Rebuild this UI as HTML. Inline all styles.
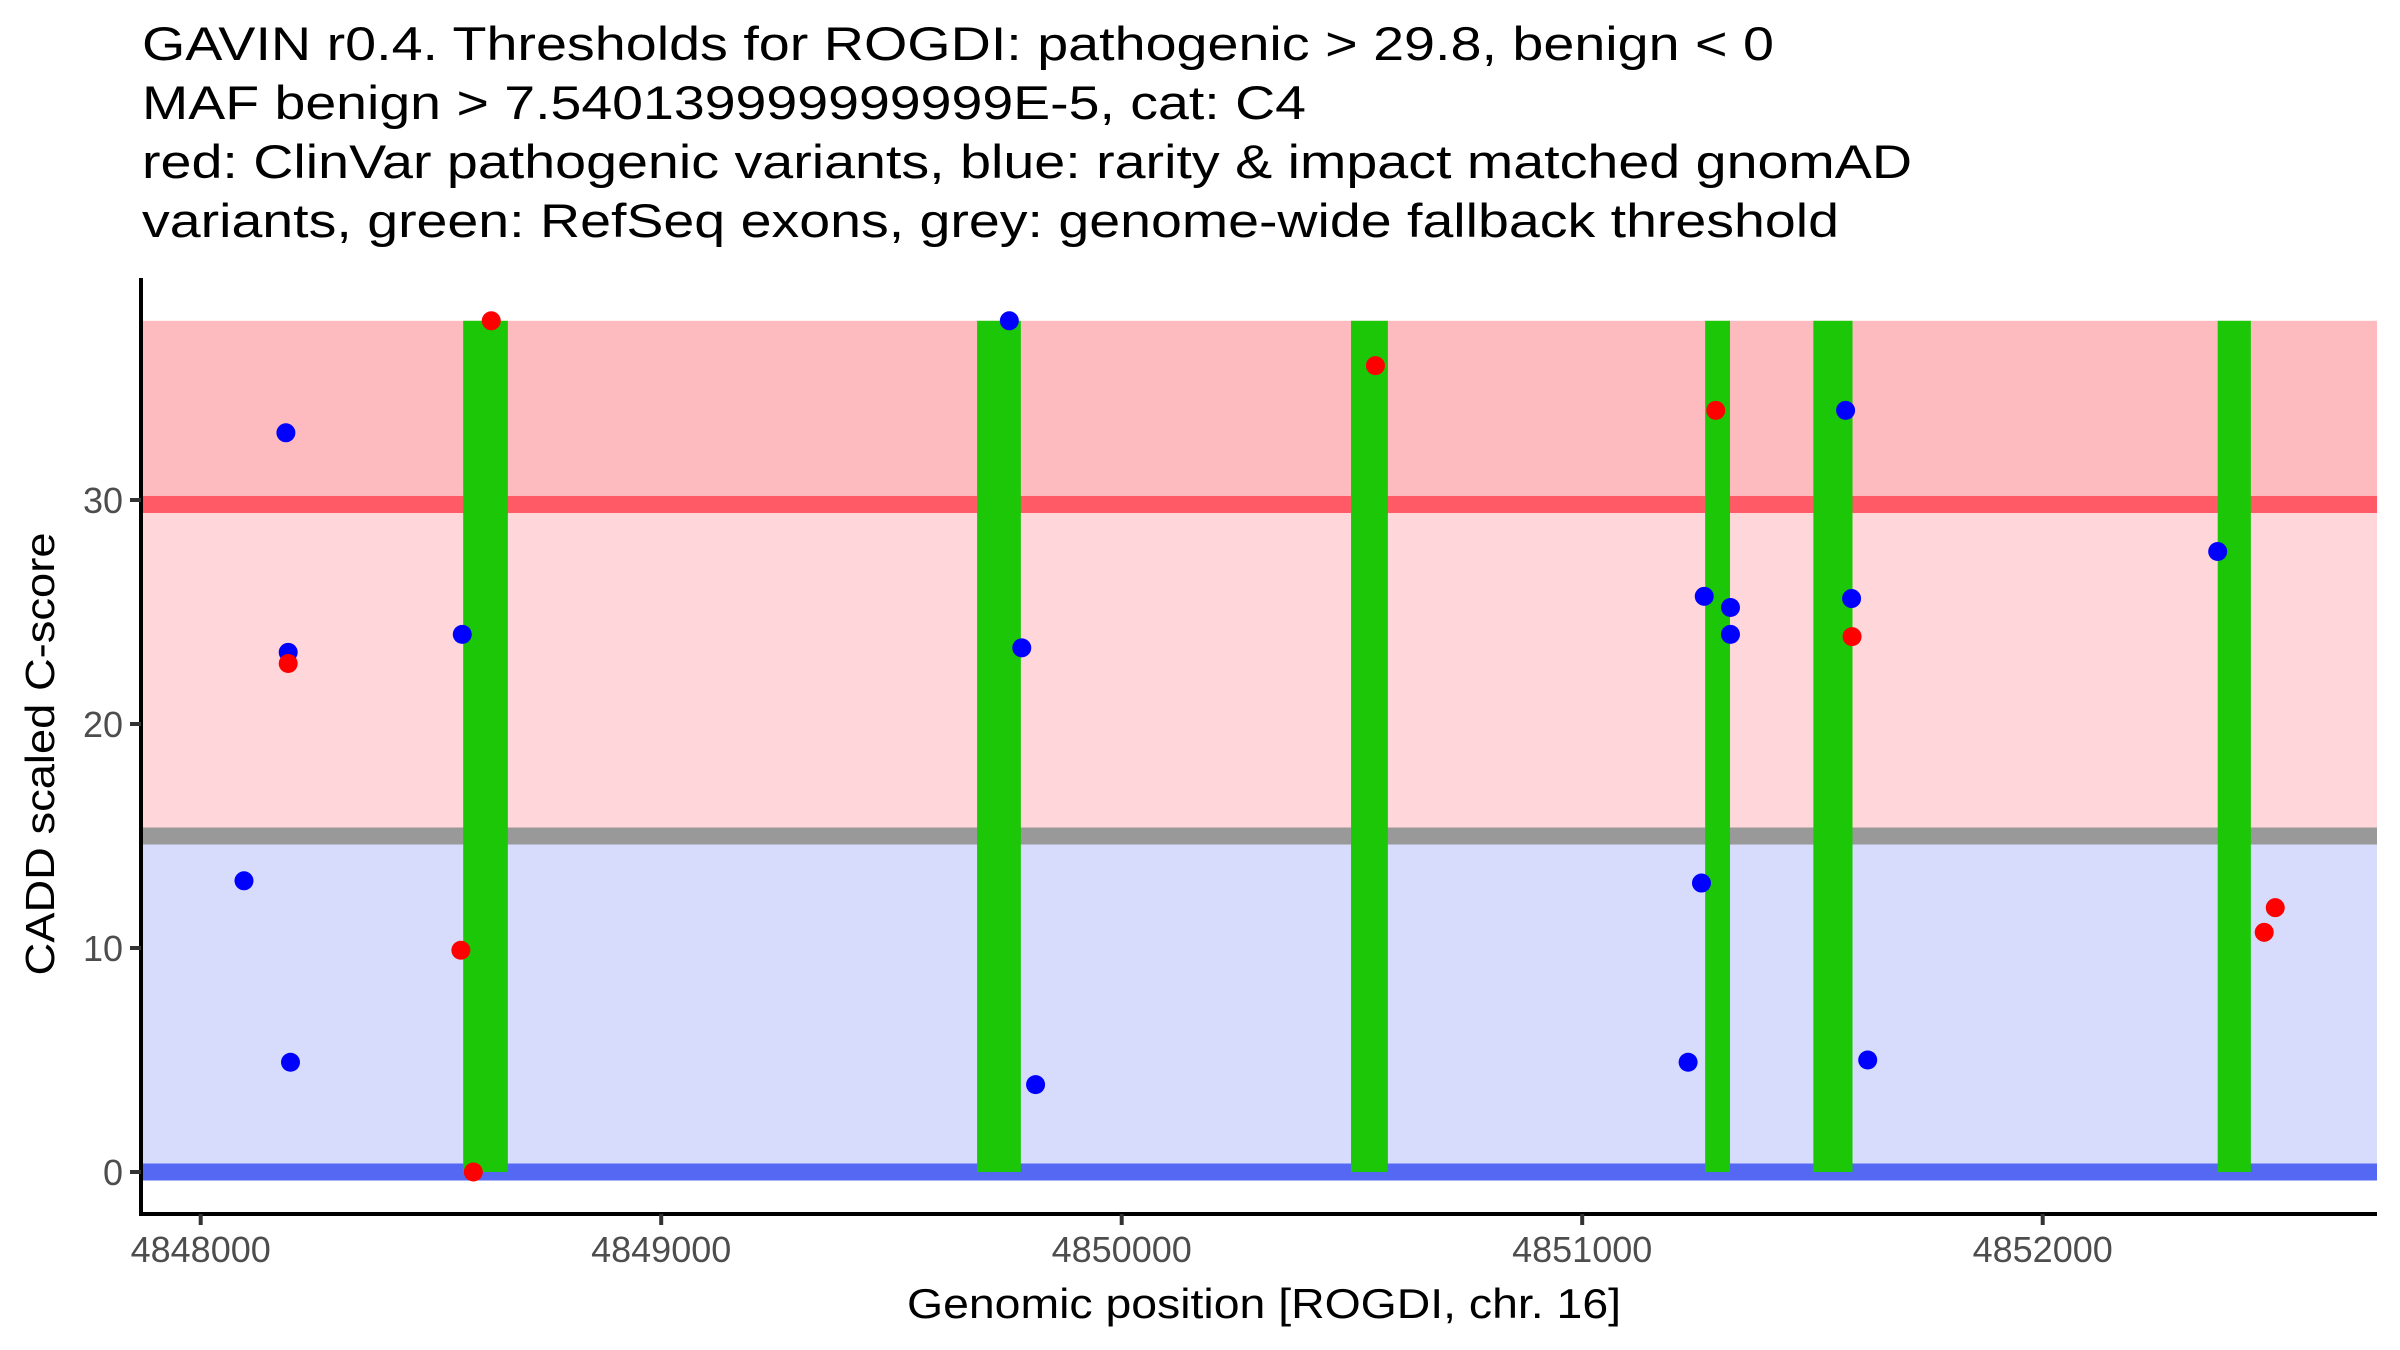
<!DOCTYPE html>
<html><head><meta charset="utf-8"><style>
html,body{margin:0;padding:0;background:#fff;}
svg{display:block;font-family:"Liberation Sans",Arial,sans-serif;}
</style></head><body>
<svg id="chart" width="2400" height="1350" viewBox="0 0 2400 1350" xmlns="http://www.w3.org/2000/svg">
<g font-size="47" fill="#000">
<text x="142" y="60" textLength="1632" lengthAdjust="spacingAndGlyphs">GAVIN r0.4. Thresholds for ROGDI: pathogenic &gt; 29.8, benign &lt; 0</text>
<text x="142" y="119" textLength="1164" lengthAdjust="spacingAndGlyphs">MAF benign &gt; 7.540139999999999E-5, cat: C4</text>
<text x="142" y="178" textLength="1770" lengthAdjust="spacingAndGlyphs">red: ClinVar pathogenic variants, blue: rarity &amp; impact matched gnomAD</text>
<text x="142" y="237" textLength="1697" lengthAdjust="spacingAndGlyphs">variants, green: RefSeq exons, grey: genome-wide fallback threshold</text>
</g>
<g id="bands"></g>
<g id="exons"></g>
<g id="points"></g>
<g id="axes"></g>
<text x="1264" y="1318" font-size="42" text-anchor="middle" textLength="714" lengthAdjust="spacingAndGlyphs">Genomic position [ROGDI, chr. 16]</text>
<text transform="translate(54,754) rotate(-90)" font-size="41" text-anchor="middle" textLength="443" lengthAdjust="spacingAndGlyphs">CADD scaled C-score</text>
</svg>
<script>
const exonStarts = [4848570, 4849686, 4850498, 4851267, 4851502, 4852380];
const exonEnds   = [4848667, 4849781, 4850578, 4851321, 4851587, 4852452];
const bluePos   = [4848185, 4848190, 4848568, 4848094, 4848195, 4849756, 4849783, 4849813, 4851265, 4851322, 4851322, 4851259, 4851230, 4851572, 4851585, 4851620, 4852380];
const blueScore = [33, 23.2, 24, 13, 4.9, 38, 23.4, 3.9, 25.7, 25.2, 24.0, 12.9, 4.9, 34, 25.6, 5.0, 27.7];
const redPos   = [4848631, 4848190, 4848565, 4848592, 4850551, 4851290, 4851586, 4852481, 4852505];
const redScore = [38, 22.7, 9.9, 0, 36, 34, 23.9, 10.7, 11.8];
const xTicks = [4848000, 4849000, 4850000, 4851000, 4852000];
const yTicks = [0, 10, 20, 30];
const pathoThr = 29.8, benignThr = 0, fallbackThr = 15, maxScore = 38;

const NS = 'http://www.w3.org/2000/svg';
const X = v => 200.7 + (v - 4848000) * 0.4605;
const Y = v => 1172 - v * 22.4;
const L = 141, R = 2377, T = 278, B = 1214;
function mk(tag, attrs, parent){const e=document.createElementNS(NS,tag);for(const k in attrs)e.setAttribute(k,attrs[k]);parent.appendChild(e);return e;}
const bands = document.getElementById('bands');
let e;
e = mk('rect',{x:L,y:Y(maxScore),width:R-L,height:Y(pathoThr)-Y(maxScore),fill:'#FDBBC0'},bands);


e = mk('rect',{x:L,y:Y(pathoThr),width:R-L,height:Y(fallbackThr)-Y(pathoThr),fill:'#FFD7DB'},bands);


e = mk('rect',{x:L,y:Y(fallbackThr),width:R-L,height:Y(benignThr)-Y(fallbackThr),fill:'#D7DBFC'},bands);


e = mk('rect',{x:L,y:Y(pathoThr)-8.5,width:R-L,height:17,fill:'#FF5A66'},bands);


e = mk('rect',{x:L,y:Y(fallbackThr)-8.5,width:R-L,height:17,fill:'#999999'},bands);


e = mk('rect',{x:L,y:Y(benignThr)-8.5,width:R-L,height:17,fill:'#5468F4'},bands);



const exons = document.getElementById('exons');
for(let i=0;i<exonStarts.length;i++){
  e = mk('rect',{x:X(exonStarts[i]),y:Y(maxScore),width:X(exonEnds[i])-X(exonStarts[i]),height:Y(0)-Y(maxScore),fill:'#1BC706'},exons);
  
  
}
const pts = document.getElementById('points');
for(let i=0;i<bluePos.length;i++){
  e = mk('circle',{cx:X(bluePos[i]),cy:Y(blueScore[i]),r:9.5,fill:'#0000FF'},pts);
  
  
}
for(let i=0;i<redPos.length;i++){
  e = mk('circle',{cx:X(redPos[i]),cy:Y(redScore[i]),r:9.5,fill:'#FF0000'},pts);
  
  
}
const ax = document.getElementById('axes');
e = mk('line',{x1:L,y1:T,x2:L,y2:B+2,stroke:'#000','stroke-width':4},ax);


e = mk('line',{x1:L-2,y1:B,x2:R,y2:B,stroke:'#000','stroke-width':4},ax);


for(const t of xTicks){
  mk('line',{x1:X(t),y1:B,x2:X(t),y2:B+11,stroke:'#333','stroke-width':4},ax);
  e = mk('text',{x:X(t),y:B+48,'font-size':36,fill:'#4D4D4D','text-anchor':'middle'},ax);
  e.textContent = t;
  
  
}
for(const t of yTicks){
  mk('line',{x1:L-11,y1:Y(t),x2:L,y2:Y(t),stroke:'#333','stroke-width':4},ax);
  e = mk('text',{x:L-18,y:Y(t)+13,'font-size':36,fill:'#4D4D4D','text-anchor':'end'},ax);
  e.textContent = t;
  
  
}
</script>
</body></html>
